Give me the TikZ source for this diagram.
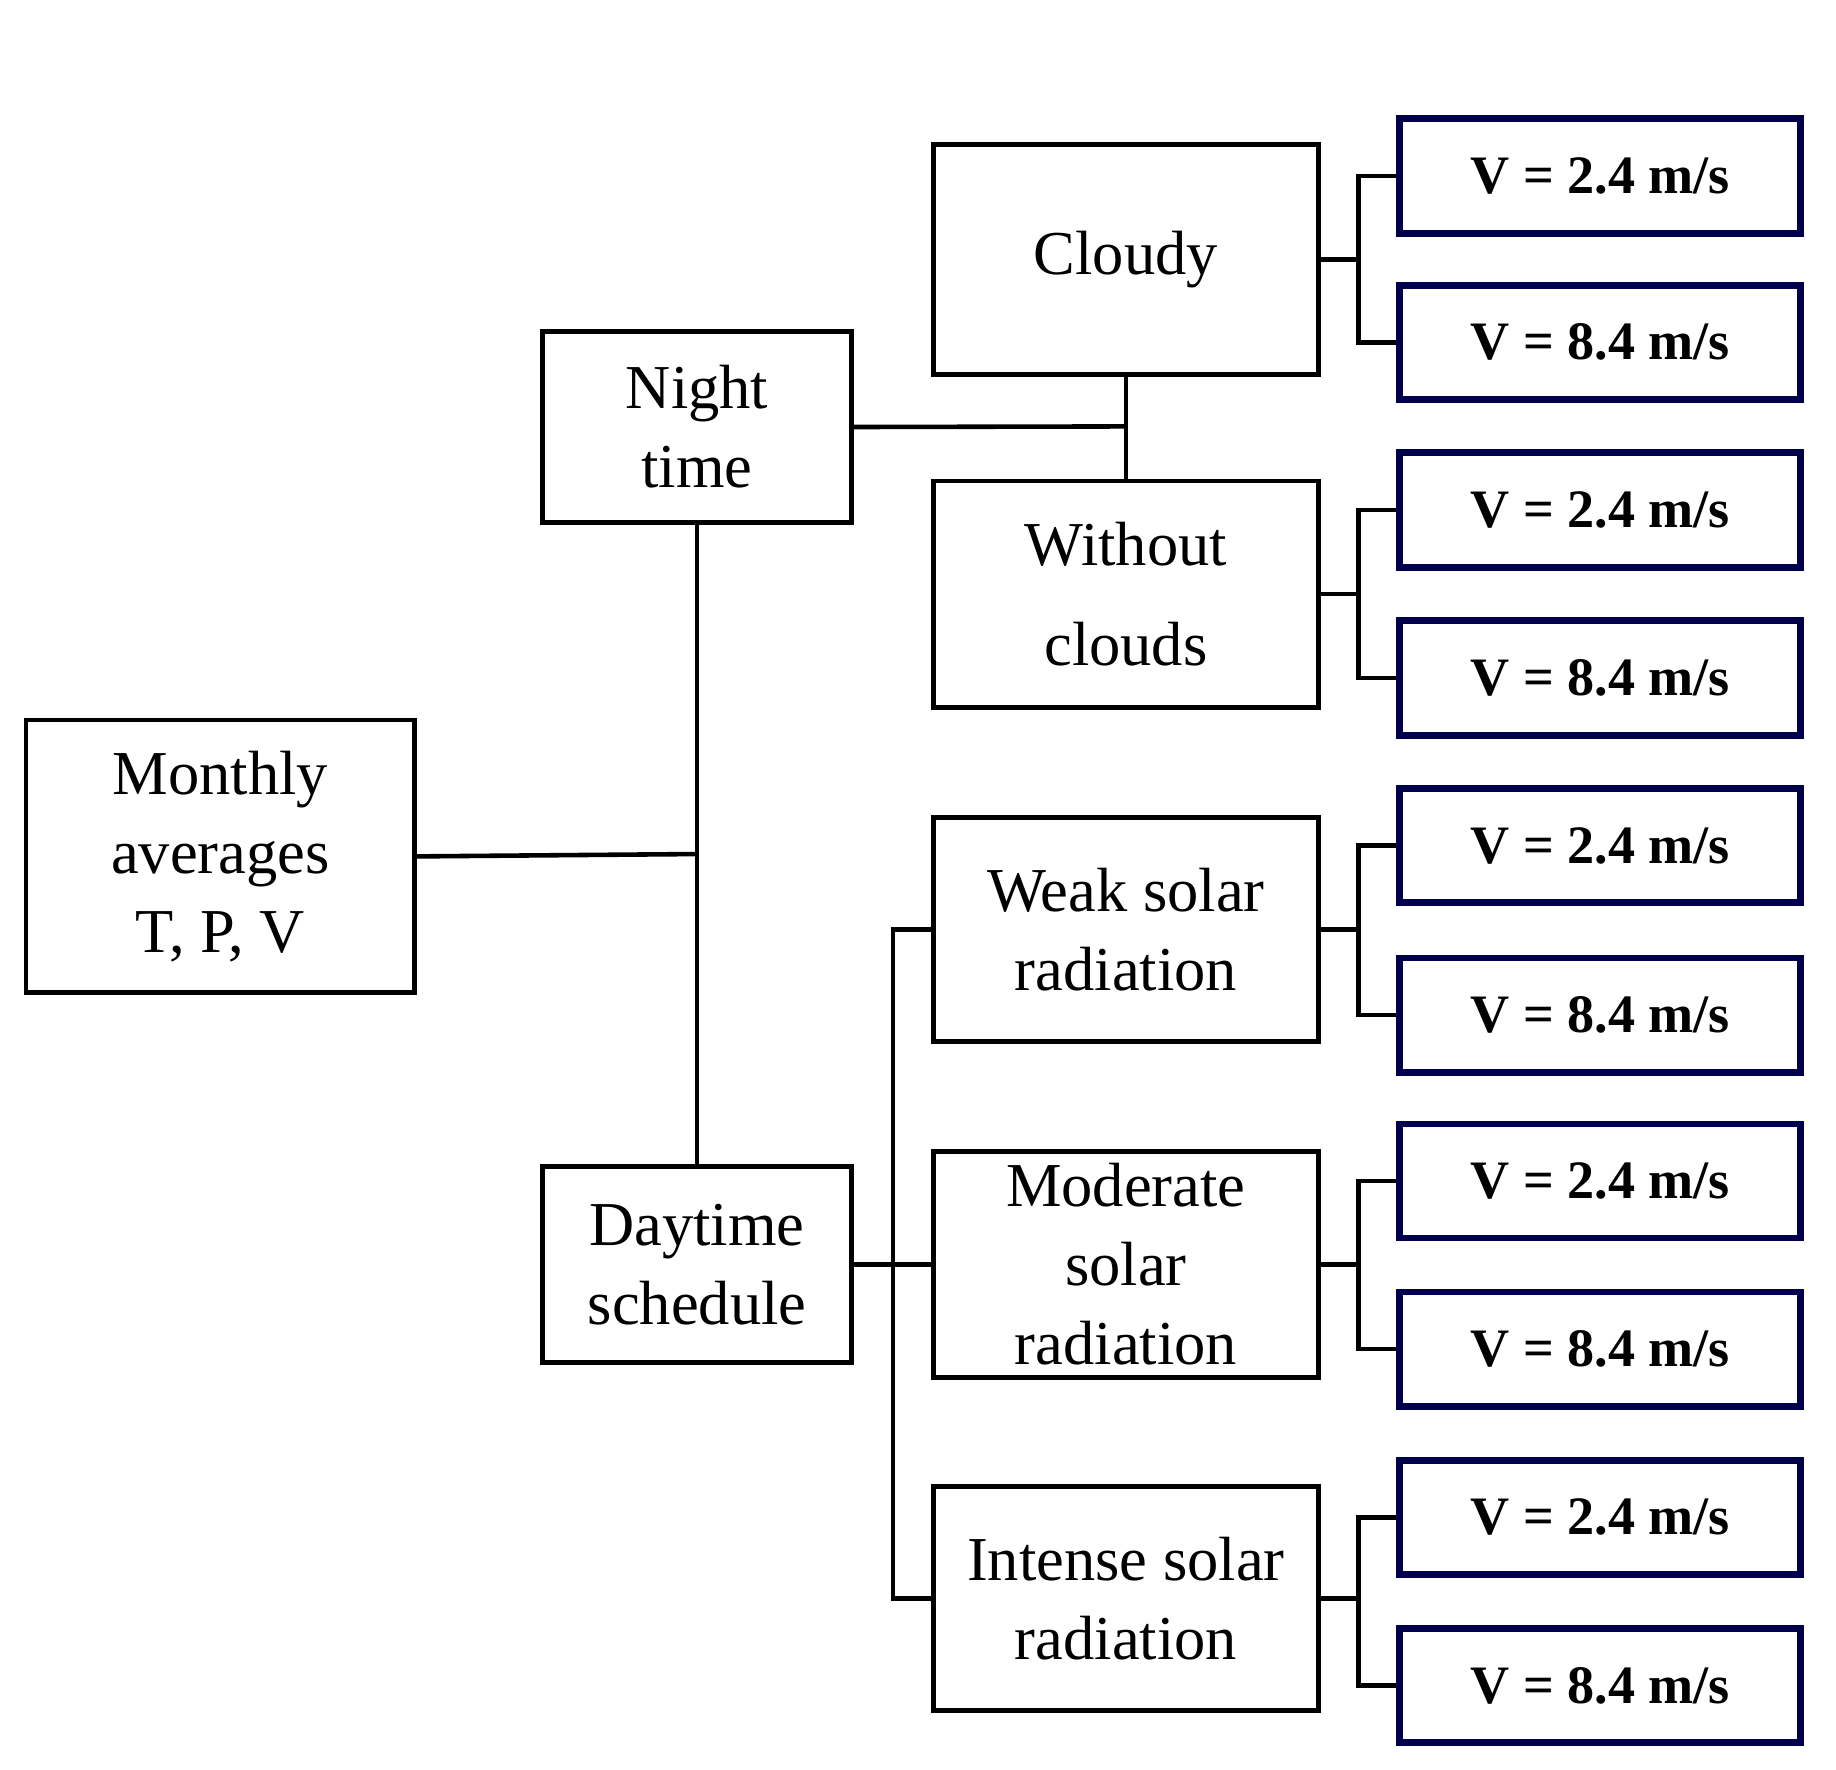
\documentclass[tikz,border=0pt]{standalone}
\usepackage{fontspec}
\setmainfont{Liberation Serif}
\begin{document}
\begin{tikzpicture}[x=0.01cm,y=-0.01cm,
 box/.style={draw=black,line width=1.1pt,align=center,font=\fontsize{15}{19}\selectfont,inner sep=0pt},
 ln/.style={line width=1.1pt}]
\useasboundingbox (0,0) rectangle (1550,1494);
\newcommand{\bx}[6]{\node[#6,minimum width={(#3-#2)*0.01cm-1.1pt},minimum height={(#5-#4)*0.01cm-1.1pt}] (#1) at ({(#2+#3)/2},{(#4+#5)/2}) {};}
\bx{m}{20}{352}{606}{840}{box}
\bx{n}{456}{721}{278}{443}{box}
\bx{d}{456}{721}{983}{1152}{box}
\bx{c}{786}{1115}{120}{318}{box}
\bx{w}{786}{1115}{404}{599}{box}
\bx{we}{786}{1115}{688}{881}{box}
\bx{mo}{786}{1115}{970}{1165}{box}
\bx{in}{786}{1115}{1253}{1446}{box}
\node[font=\fontsize{15}{19}\selectfont,align=center] at (m) {Monthly\\averages\\T, P, V};
\node[font=\fontsize{15}{19}\selectfont,align=center] at (n) {Night\\time};
\node[font=\fontsize{15}{19}\selectfont,align=center] at (d) {Daytime\\schedule};
\node[font=\fontsize{15}{19}\selectfont,align=center] at (c) {Cloudy};
\node[font=\fontsize{15}{24}\selectfont,align=center] at (w) {Without\\clouds};
\node[font=\fontsize{15}{19}\selectfont,align=center] at (we) {Weak solar\\radiation};
\node[font=\fontsize{15}{19}\selectfont,align=center] at (mo) {Moderate\\solar\\radiation};
\node[font=\fontsize{15}{19}\selectfont,align=center] at (in) {Intense solar\\radiation};
\foreach \i/\a/\b/\t in {1/97/200/2.4,2/238/340/8.4,3/379/482/2.4,4/521/624/8.4,5/663/765/2.4,6/806/908/8.4,7/946/1048/2.4,8/1088/1190/8.4,9/1230/1332/2.4,10/1372/1474/8.4}{
 \node[draw=black!70!blue,line width=1.6pt,minimum width={3.44cm-1.6pt},minimum height={(\b-\a)*0.01cm-1.6pt},font=\bfseries\fontsize{13}{15}\selectfont] (v\i) at (1351,{(\a+\b)/2}) {V = \t\ m/s};
}
\coordinate (j) at (589,721);
\draw[ln] (m.east) -- (j);
\draw[ln] (n.south) -- (d.north);
\coordinate (k) at (951,360);
\draw[ln] (n.east) -- (k);
\draw[ln] (c.south) -- (w.north);
\draw[ln] (d.east) -- (mo.west);
\draw[ln] (we.west) -| (754,1068) |- (in.west);
\foreach \p/\x/\y in {c/v1/v2,w/v3/v4,we/v5/v6,mo/v7/v8,in/v9/v10}{
 \draw[ln] (\p.east) -- ++(32,0);
 \draw[ln] (\x.west) -| ([xshift=0.32cm]\p.east |- \y.west) -- (\y.west);
}
\end{tikzpicture}
\end{document}
